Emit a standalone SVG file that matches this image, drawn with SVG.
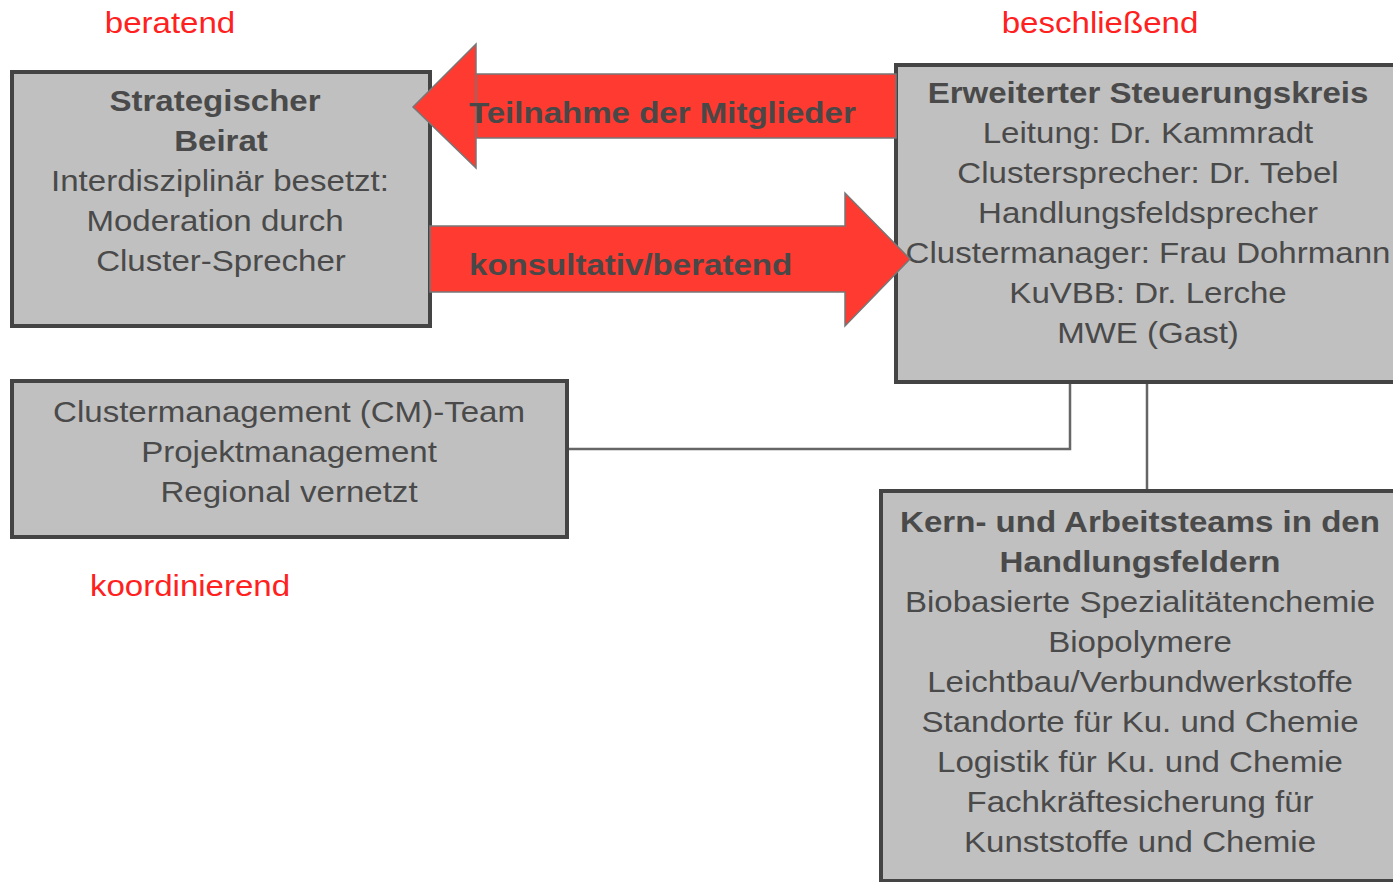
<svg xmlns="http://www.w3.org/2000/svg" width="1393" height="882" viewBox="0 0 1393 882">
<style>
.box{fill:#c0c0c0;stroke:#444;stroke-width:4}
.t{font-family:"Liberation Sans",Arial,sans-serif;font-size:29px;fill:#4a4a4a;text-anchor:middle}
.b{font-weight:bold}
.red{font-family:"Liberation Sans",Arial,sans-serif;font-size:29px;fill:#ff2020;text-anchor:middle}
.arr{fill:#ff3a30;stroke:#777;stroke-width:1.5}
.at{font-family:"Liberation Sans",Arial,sans-serif;font-size:29px;font-weight:bold;fill:#484848}
.con{fill:none;stroke:#666;stroke-width:2.5}
</style>
<rect width="1393" height="882" fill="#fff"/>
<g id="labels">
<text class="red" transform="translate(170 33) scale(1.14 1)">beratend</text>
<text class="red" transform="translate(1100 33) scale(1.14 1)">beschließend</text>
<text class="red" transform="translate(190 596) scale(1.14 1)">koordinierend</text>
</g>
<g id="connectors">
<path class="con" d="M567 449 H1070 V382"/>
<path class="con" d="M1147 382 V491"/>
</g>
<g id="beirat">
<rect class="box" x="12" y="72" width="418" height="254"/>
<text class="t b" transform="translate(215 111) scale(1.14 1)">Strategischer</text>
<text class="t b" transform="translate(221 151) scale(1.14 1)">Beirat</text>
<text class="t" transform="translate(220 191) scale(1.14 1)">Interdisziplinär besetzt:</text>
<text class="t" transform="translate(215 231) scale(1.14 1)">Moderation durch</text>
<text class="t" transform="translate(221 271) scale(1.14 1)">Cluster-Sprecher</text>
</g>
<g id="steuerungskreis">
<rect class="box" x="896" y="65" width="502" height="317"/>
<text class="t b" transform="translate(1148 103) scale(1.14 1)">Erweiterter Steuerungskreis</text>
<text class="t" transform="translate(1148 143) scale(1.14 1)">Leitung: Dr. Kammradt</text>
<text class="t" transform="translate(1148 183) scale(1.14 1)">Clustersprecher: Dr. Tebel</text>
<text class="t" transform="translate(1148 223) scale(1.14 1)">Handlungsfeldsprecher</text>
<text class="t" transform="translate(1148 263) scale(1.14 1)">Clustermanager: Frau Dohrmann</text>
<text class="t" transform="translate(1148 303) scale(1.14 1)">KuVBB: Dr. Lerche</text>
<text class="t" transform="translate(1148 343) scale(1.14 1)">MWE (Gast)</text>
</g>
<g id="cm-team">
<rect class="box" x="12" y="381" width="555" height="156"/>
<text class="t" transform="translate(289 422) scale(1.14 1)">Clustermanagement (CM)-Team</text>
<text class="t" transform="translate(289 462) scale(1.14 1)">Projektmanagement</text>
<text class="t" transform="translate(289 502) scale(1.14 1)">Regional vernetzt</text>
</g>
<g id="kernteams">
<rect class="box" x="881" y="491" width="517" height="390"/>
<text class="t b" transform="translate(1140 532) scale(1.14 1)">Kern- und Arbeitsteams  in den</text>
<text class="t b" transform="translate(1140 572) scale(1.14 1)">Handlungsfeldern</text>
<text class="t" transform="translate(1140 612) scale(1.14 1)">Biobasierte Spezialitätenchemie</text>
<text class="t" transform="translate(1140 652) scale(1.14 1)">Biopolymere</text>
<text class="t" transform="translate(1140 692) scale(1.14 1)">Leichtbau/Verbundwerkstoffe</text>
<text class="t" transform="translate(1140 732) scale(1.14 1)">Standorte für Ku. und Chemie</text>
<text class="t" transform="translate(1140 772) scale(1.14 1)">Logistik für Ku. und Chemie</text>
<text class="t" transform="translate(1140 812) scale(1.14 1)">Fachkräftesicherung für</text>
<text class="t" transform="translate(1140 852) scale(1.14 1)">Kunststoffe und Chemie</text>
</g>
<g id="arrows">
<polygon class="arr" points="896,74 476,74 476,168 413,107 476,44 476,138 896,138"/>
<polygon class="arr" points="430,226 845,226 845,193 910,259 845,326 845,292 430,292"/>
<text class="at" transform="translate(469 123) scale(1.14 1)">Teilnahme der Mitglieder</text>
<text class="at" transform="translate(469 275) scale(1.14 1)">konsultativ/beratend</text>
</g>
</svg>
